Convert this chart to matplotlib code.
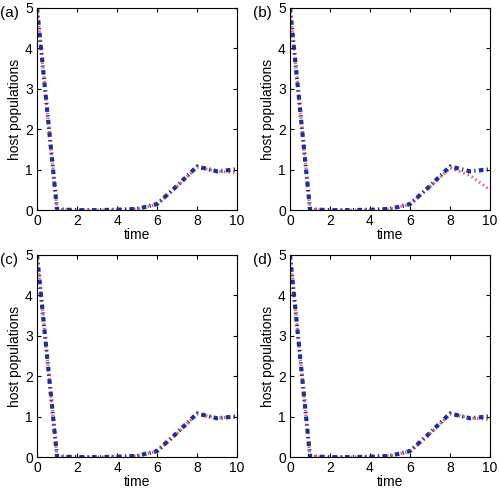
import numpy as np
import matplotlib
matplotlib.use("Agg")
from matplotlib import pyplot as plt

plt.rcParams['font.family'] = ['Liberation Sans', 'DejaVu Sans']

t = [0, 1, 2, 3, 4, 5, 6, 7, 8, 9, 10]
blue = [5.0, 0.02, 0.0, 0.0, 0.01, 0.03, 0.15, 0.6, 1.08, 0.96, 1.01]
red_a = [5.0, 0.02, 0.0, 0.0, 0.01, 0.03, 0.14, 0.58, 1.06, 0.96, 0.92]
red_b = [5.0, 0.02, 0.0, 0.0, 0.01, 0.03, 0.14, 0.58, 1.04, 0.86, 0.5]
red_c = [5.0, 0.02, 0.0, 0.0, 0.01, 0.03, 0.14, 0.58, 1.06, 0.97, 0.99]
red_d = [5.0, 0.02, 0.0, 0.0, 0.01, 0.03, 0.14, 0.58, 1.06, 0.97, 0.93]
labels = ['(a)', '(b)', '(c)', '(d)']
reds = [red_a, red_b, red_c, red_d]

fig = plt.figure(figsize=(5, 4.91), dpi=100)
pos = [[0.074, 0.572, 0.4, 0.412], [0.58, 0.572, 0.4, 0.412],
       [0.074, 0.069, 0.4, 0.412], [0.58, 0.069, 0.4, 0.412]]

for i in range(4):
    ax = fig.add_axes(pos[i])
    ax.plot(t, reds[i], color='#e04848', ls=(0, (0.5, 1.0)), lw=2.2, alpha=0.85)
    ax.plot(t, blue, color='#1f2f9c', ls=(0, (1.1, 0.8, 0.3, 0.8)), lw=3,
            dash_capstyle='butt')
    ax.set_xlim(0, 10)
    ax.set_ylim(0, 5)
    ax.set_xticks([0, 2, 4, 6, 8, 10])
    ax.set_yticks([0, 1, 2, 3, 4, 5])
    ax.tick_params(direction='in', top=True, right=True, labelsize=10, length=3, pad=3)
    ax.set_xlabel('time', fontsize=10, labelpad=0)
    ax.set_ylabel('host populations', fontsize=10, labelpad=2)
    fig.text(pos[i][0] - 0.074, pos[i][1] + pos[i][3] - 0.01, labels[i], fontsize=11, va='center')

fig.savefig('out.png', dpi=100)
